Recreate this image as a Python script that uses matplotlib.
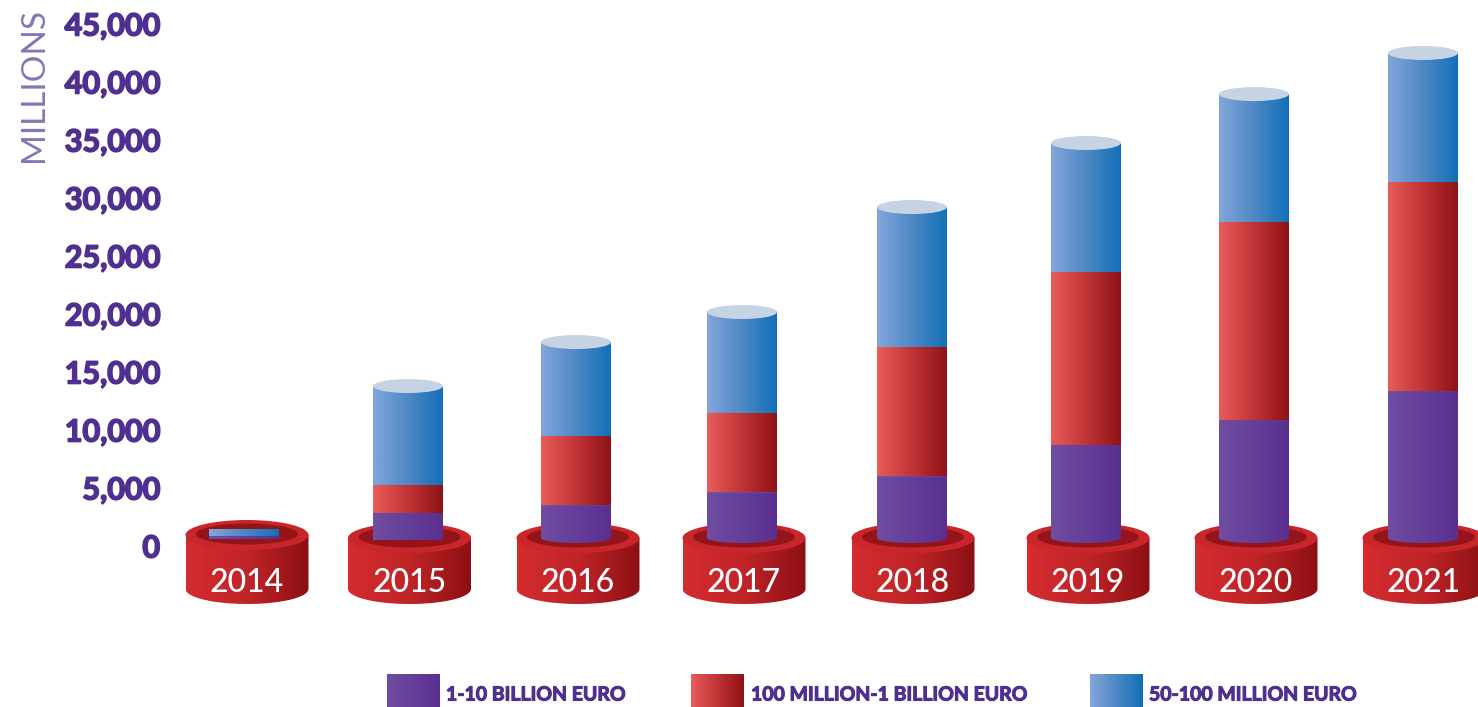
import numpy as np
from matplotlib import pyplot as plt
from matplotlib import patheffects as pe
from matplotlib.colors import LinearSegmentedColormap
from matplotlib.patches import Ellipse, PathPatch
from matplotlib.path import Path

years = ['2014', '2015', '2016', '2017', '2018', '2019', '2020', '2021']
# millions
billion_1_10 = [860, 2850, 3530, 4650, 6030, 8710, 10860, 13360]
million_100_1b = [0, 2410, 5950, 6810, 11120, 14910, 17070, 18020]
million_50_100 = [520, 8530, 8100, 8710, 12070, 11120, 11030, 11120]
y_ticks = [0, 5000, 10000, 15000, 20000, 25000, 30000, 35000, 40000, 45000]
legend_labels = ['1-10 BILLION EURO', '100 MILLION-1 BILLION EURO', '50-100 MILLION EURO']

# layout, in pixels of the 1478x707 picture
bar_x = [244, 408, 576, 742, 912, 1086, 1254, 1423]
base_x = [247, 409.5, 578, 744, 913, 1088, 1256, 1424]
floor_px = [539, 540, 538, 538, 538, 538, 538, 538]
BAR_W = 70
ZERO_PX = 546
PX_PER_UNIT = 522 / 45000

PURPLE = LinearSegmentedColormap.from_list('p', ['#6f4ea2', '#5a2f90'])
RED = LinearSegmentedColormap.from_list('r', ['#e85c5a', '#c03436', '#8f1216'])
BLUE = LinearSegmentedColormap.from_list('b', ['#82a6da', '#4f88c6', '#1270b8'])
BASE = LinearSegmentedColormap.from_list('d', ['#d42c30', '#c02428', '#8c1014'])
TEXT = '#4f2f8f'
THICK = [pe.withStroke(linewidth=1.2, foreground=TEXT)]


def val(py):
    # pixel row -> value on the y axis
    return (ZERO_PX - py) / PX_PER_UNIT


fig = plt.figure(figsize=(14.78, 7.07), dpi=100)
ax = fig.add_axes([160 / 1478, 0, 1318 / 1478, 1])
ax.set_xlim(160, 1478)
ax.set_ylim(val(707), val(0))
for s in ax.spines.values():
    s.set_visible(False)
ax.set_xticks([])
ax.set_yticks(y_ticks)
ax.set_yticklabels([f'{t:,}' for t in y_ticks], family='Lato', fontweight='bold',
                   fontsize=22, color=TEXT, path_effects=THICK)
ax.tick_params(axis='y', length=0, pad=0)


def half_ellipse(cx, cy_px, rx, ry_px, lower=True):
    t = np.linspace(np.pi, 2 * np.pi, 40) if lower else np.linspace(0, np.pi, 40)
    return cx + rx * np.cos(t), val(cy_px - ry_px * np.sin(t))


def gradient(cmap, x0, x1, y0, y1, xy=None, z=2):
    im = ax.imshow(np.linspace(0, 1, 128)[None, :], cmap=cmap, aspect='auto',
                   extent=[x0, x1, y0, y1], zorder=z, interpolation='bilinear')
    if xy is not None:
        clip = PathPatch(Path(np.column_stack(xy)), transform=ax.transData)
        im.set_clip_path(clip)
    return im


def ellipse(cx, cy_px, rx, ry_px, color, z):
    ax.add_patch(Ellipse((cx, val(cy_px)), 2 * rx, 2 * ry_px / PX_PER_UNIT,
                         facecolor=color, edgecolor='none', zorder=z))


# red pedestals
for i, cx in enumerate(base_x):
    top = 535 if i == 0 else 538
    ex, ey = half_ellipse(cx, 589, 61.5, 15)
    xs = np.concatenate([[cx - 61.5], ex, [cx + 61.5]])
    ys = np.concatenate([[val(top)], ey, [val(top)]])
    gradient(BASE, cx - 61.5, cx + 61.5, val(604), val(top), (xs, ys), z=1)
    ellipse(cx, top, 61.5, 15, '#c9262b', 1.2)
    ellipse(cx, top - 1, 51, 10.5, '#94141a', 1.4)
    ax.text(cx, val(583), years[i], color='white', family='Lato', fontweight='medium',
            fontsize=23, ha='center', va='center', zorder=3)

# stacked cylinders
for i, cx in enumerate(bar_x):
    x0, x1 = cx - BAR_W / 2, cx + BAR_W / 2
    cum = 0
    for series, cmap in ((billion_1_10, PURPLE), (million_100_1b, RED), (million_50_100, BLUE)):
        v = series[i]
        if v == 0:
            continue
        if cmap is PURPLE:
            lo = val(floor_px[i])
            if i >= 2:
                ex, ey = half_ellipse(cx, floor_px[i], BAR_W / 2, 5)
                xy = (np.concatenate([[x0], ex, [x1], [x0]]),
                      np.concatenate([[v], ey, [v], [v]]))
                gradient(cmap, x0, x1, val(floor_px[i] + 5), v, xy)
            else:
                gradient(cmap, x0, x1, lo, v)
        else:
            gradient(cmap, x0, x1, cum, cum + v)
        cum += v
    if i > 0:
        ax.add_patch(Ellipse((cx, cum), BAR_W, 14 / PX_PER_UNIT, facecolor='#c6d3e2',
                             edgecolor='none', zorder=2.5))

# legend
ax.set_xlim(160, 1478)
ax.set_ylim(val(707), val(0))
for x0, cmap, label, tx in zip([387, 691, 1090], [PURPLE, RED, BLUE], legend_labels, [446, 751, 1149]):
    gradient(cmap, x0, x0 + 53, val(707), val(674))
    ax.text(tx, val(695), label, color=TEXT, family='Lato', fontweight='bold',
            fontsize=14, ha='left', va='center', path_effects=[pe.withStroke(linewidth=0.8, foreground=TEXT)])

fig.text(34 / 1478, 1 - 85 / 707, 'MILLIONS', rotation=90, color='#8775b5', family='Lato',
         fontweight='normal', fontsize=24, ha='center', va='center')

plt.savefig('out.png', dpi=100)
